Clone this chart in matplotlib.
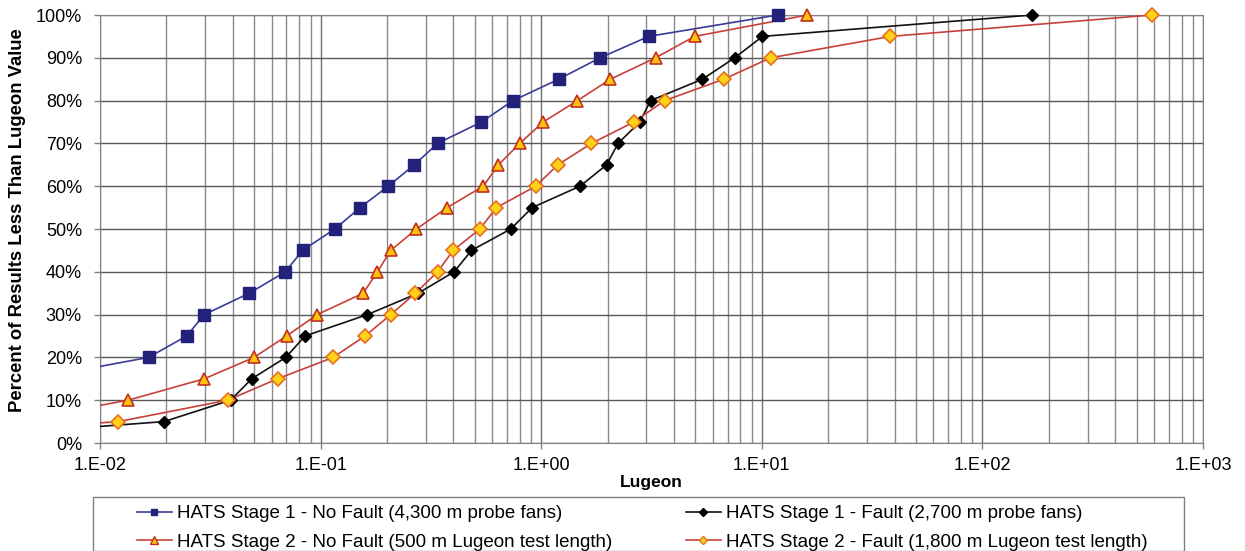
import matplotlib
matplotlib.use("Agg")
import matplotlib.pyplot as plt
from matplotlib.lines import Line2D
from matplotlib.patches import Rectangle
from matplotlib.ticker import FixedLocator, FuncFormatter, NullFormatter, NullLocator

plt.rcParams['font.family'] = ['Liberation Sans', 'DejaVu Sans']

# Cumulative percent of results and corresponding Lugeon values
s1_nf_pct = [15, 20, 25, 30, 35, 40, 45, 50, 55, 60, 65, 70, 75, 80, 85, 90, 95, 100]
s1_nf_lug = [0.005, 0.0166, 0.0247, 0.0297, 0.0475, 0.0692, 0.0828, 0.116, 0.151, 0.2025,
             0.266, 0.339, 0.536, 0.746, 1.20, 1.85, 3.07, 11.8]

s1_f_pct = [0, 5, 10, 15, 20, 25, 30, 35, 40, 45, 50, 55, 60, 65, 70, 75, 80, 85, 90, 95, 100]
s1_f_lug = [0.001, 0.0195, 0.0391, 0.0487, 0.0696, 0.0849, 0.163, 0.277, 0.403, 0.483, 0.728,
            0.910, 1.50, 1.98, 2.23, 2.80, 3.13, 5.38, 7.54, 10.07, 168]

s2_nf_pct = [5, 10, 15, 20, 25, 30, 35, 40, 45, 50, 55, 60, 65, 70, 75, 80, 85, 90, 95, 100]
s2_nf_lug = [0.004, 0.0134, 0.0297, 0.0499, 0.0701, 0.0965, 0.156, 0.181, 0.208, 0.272, 0.375,
             0.546, 0.640, 0.800, 1.02, 1.46, 2.06, 3.30, 4.96, 16.1]

s2_f_pct = [0, 5, 10, 15, 20, 25, 30, 35, 40, 45, 50, 55, 60, 65, 70, 75, 80, 85, 90, 95, 100]
s2_f_lug = [0.0005, 0.0121, 0.0379, 0.0638, 0.114, 0.159, 0.208, 0.269, 0.339, 0.399, 0.527,
            0.627, 0.944, 1.19, 1.69, 2.63, 3.63, 6.72, 10.97, 38.3, 586]

labels = [
    "HATS Stage 1 - No Fault (4,300 m probe fans)",
    "HATS Stage 1 - Fault (2,700 m probe fans)",
    "HATS Stage 2 - No Fault (500 m Lugeon test length)",
    "HATS Stage 2 - Fault (1,800 m Lugeon test length)",
]
x_ticks = [0.01, 0.1, 1, 10, 100, 1000]
x_tick_labels = ["1.E-02", "1.E-01", "1.E+00", "1.E+01", "1.E+02", "1.E+03"]
y_ticks = list(range(0, 101, 10))

W, H = 1245, 551
fig = plt.figure(figsize=(W / 100, H / 100), dpi=100)
ax = fig.add_axes([100 / W, 1 - 443 / H, 1103 / W, 428 / H])

ax.set_xscale('log')
ax.set_xlim(0.01, 1000)
ax.set_ylim(0, 100)

minor_pos = [m * 10.0 ** e for e in range(-2, 3) for m in range(2, 10)]
for xv in minor_pos:
    ax.axvline(xv, color='#8a8a8a', lw=1.0, zorder=1)
for xv in x_ticks:
    ax.axvline(xv, color='#707070', lw=1.0, zorder=1)
for yv in y_ticks:
    ax.axhline(yv, color='#5a5a5a', lw=1.0, zorder=1)

styles = [
    dict(color='#3A3A98', marker='s', ms=8, mfc='#22227A', mec='#22227A', mew=1.0),
    dict(color='#111111', marker='D', ms=6.5, mfc='#000000', mec='#000000', mew=1.0),
    dict(color='#C8403A', marker='^', ms=9, mfc='#FFC20E', mec='#C0301E', mew=1.2),
    dict(color='#C8403A', marker='D', ms=7, mfc='#FFD21A', mec='#E8701A', mew=1.2),
]
series = [(s1_nf_lug, s1_nf_pct), (s1_f_lug, s1_f_pct),
          (s2_nf_lug, s2_nf_pct), (s2_f_lug, s2_f_pct)]

handles = []
for (xs, ys), st in zip(series, styles):
    ax.plot(xs, ys, color=st['color'], lw=1.2, zorder=4)
    xin = [x for x in xs if x >= 0.01]
    yin = [y for x, y in zip(xs, ys) if x >= 0.01]
    ax.plot(xin, yin, ls='none', marker=st['marker'], ms=st['ms'], mfc=st['mfc'],
            mec=st['mec'], mew=st['mew'], zorder=5, clip_on=False)
    handles.append(Line2D([], [], color=st['color'], lw=1.2, marker=st['marker'],
                          ms=st['ms'] * 0.62, mfc=st['mfc'], mec=st['mec'], mew=1.0))

ax.xaxis.set_major_locator(FixedLocator(x_ticks))
ax.set_xticklabels(x_tick_labels)
ax.xaxis.set_minor_locator(NullLocator())
ax.xaxis.set_minor_formatter(NullFormatter())
ax.set_yticks(y_ticks)
ax.yaxis.set_major_formatter(FuncFormatter(lambda v, p: f"{int(v)}%"))
ax.tick_params(axis='both', labelsize=13, colors='#808080', labelcolor='black',
               length=4, direction='out', width=1)
ax.tick_params(axis='y', pad=9)
ax.tick_params(axis='x', pad=6)
for sp in ax.spines.values():
    sp.set_color('#808080')

ax.set_xlabel("Lugeon", fontsize=12.5, fontweight='bold', labelpad=1)
fig.text(18 / W, 1 - 220 / H, "Percent of Results Less Than Lugeon Value", rotation=90,
         fontsize=13.3, fontweight='bold', ha='center', va='center')

# Legend box
fig.add_artist(Rectangle((93 / W, 0), (1184 - 93) / W, 1 - 497 / H,
                         transform=fig.transFigure, fill=True, facecolor='white',
                         edgecolor='#808080', lw=1.0, zorder=2))
leg = fig.legend([handles[0], handles[2], handles[1], handles[3]],
                 [labels[0], labels[2], labels[1], labels[3]],
                 loc='upper left', bbox_to_anchor=(137 / W, 1 - 505 / H),
                 ncol=2, fontsize=13.5, frameon=False, handlelength=1.85,
                 handletextpad=0.27, borderpad=0, borderaxespad=0,
                 labelspacing=0.62, columnspacing=3.95)
leg.set_zorder(3)

fig.savefig("out.png", dpi=100)
